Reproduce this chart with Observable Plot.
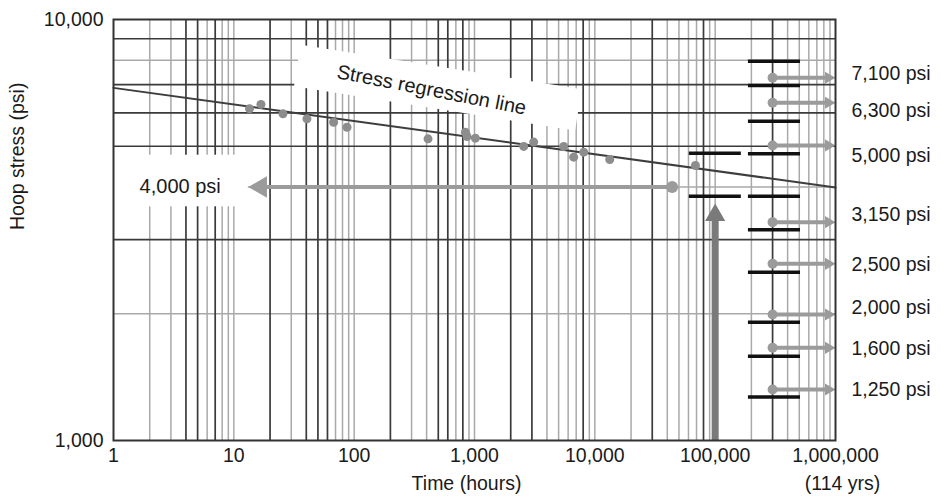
<!DOCTYPE html>
<html>
<head>
<meta charset="utf-8">
<script src="https://cdn.jsdelivr.net/npm/d3@7"></script>
<script src="https://cdn.jsdelivr.net/npm/@observablehq/plot@0.6"></script>
<style>
  html, body { margin: 0; padding: 0; background: #ffffff; }
  svg { display: block; }
</style>
</head>
<body>
<div id="chart"></div>
<script>
// ---- axis ticks ----
const xTicks = [1, 10, 100, 1000, 10000, 100000, 1000000];
const yTicks = [1000, 10000];

// ---- log graph-paper grid (dark and light lines) ----
const gridXDark = [4, 5, 7, 20, 40, 50, 60, 200, 500, 600, 800, 2000, 3000, 8000, 30000, 80000, 300000];
const gridXLight = [2, 3, 6, 8, 9, 10, 30, 70, 80, 90, 100, 300, 400, 700, 900, 1000,
  4000, 5000, 6000, 7000, 9000, 10000, 20000, 40000, 50000, 60000, 70000, 90000, 100000,
  200000, 400000, 500000, 600000, 700000, 800000, 900000];
const gridYDark = [9000, 7000, 6000, 5000, 3000];
const gridYLight = [8000, 4000, 2000];

// ---- test data points (hours, psi) ----
const testHours  = [13.5, 16.8, 25.6, 40.5, 67.5, 87.2, 411, 839, 867, 1017, 2564, 3104, 5511, 6670, 8084, 13300, 68560];
const testStress = [6136, 6284, 5970, 5808, 5702, 5548, 5206, 5400, 5274, 5225, 4995, 5114, 4995, 4710, 4840, 4650, 4499];

// ---- regression line ----
const regressionHours  = [1, 1000000];
const regressionStress = [6880, 3990];
const regressionLabel = "Stress regression line";
const regressionLabelHours = 440;
const regressionLabelStress = 6800;
const labelBoxHours  = [33.7, 7300];
const labelBoxStress = [7774, 6100];

// ---- 4,000 psi call-out ----
const hdbLabel = "4,000 psi";
const hdbStress = 4000;
const hdbPointHours = 43900;
const hdbArrowTipHours = 13.2;
const hdbLabelHours = 3.58;
const hdbBoxHours = [1, 13.2];
const hdbBoxStress = [3590, 4760];

// ---- 100,000 hour arrow ----
const designHours = 100000;
const designArrowStress = [1000, 3461];
const designArrowTipStress = 3655;

// ---- pressure ratings on the right ----
const ratingLabels = ["7,100 psi", "6,300 psi", "5,000 psi", "3,150 psi", "2,500 psi", "2,000 psi", "1,600 psi", "1,250 psi"];
const ratingArrowStress = [7270, 6342, 5022, 3301, 2628, 1992, 1660, 1322];
const ratingLabelStress = [7437, 6078, 4753, 3441, 2618, 2070, 1654, 1322];
const ratingStartHours = 300000;
const ratingShaftEndHours = 875000;
const ratingTipHours = 1000000;

// ---- black bars ----
const barStress = [7960, 6970, 5733, 4797, 3805, 3166, 2511, 1910, 1585, 1268];
const barHours = [189000, 512000];
const bar100kStress = [4812, 3805];
const bar100kHours = [61000, 165000];

// ---- labels ----
const xLabel = "Time (hours)";
const xLabelExtra = "(114 yrs)";
const yLabel = "Hoop stress (psi)";

const points = testHours.map((h, i) => ({h, s: testStress[i]}));
const regression = regressionHours.map((h, i) => ({h, s: regressionStress[i]}));
const labelBox = labelBoxHours.map((h, i) => ({h, s: labelBoxStress[i]}));
const ratings = ratingLabels.map((label, i) => ({label, a: ratingArrowStress[i], l: ratingLabelStress[i]}));

const fmt = d3.format(",");
const FONT = "'Liberation Sans', Arial, Helvetica, sans-serif";
const darkGrid = "#3a3a3a";
const lightGrid = "#a9a9a9";
const arrowGray = "#9b9b9b";
const ink = "#1a1a1a";

const chart = Plot.plot({
  width: 942,
  height: 500,
  marginLeft: 113,
  marginRight: 107,
  marginTop: 19,
  marginBottom: 60,
  style: {fontFamily: FONT, fontSize: "19.5px", color: ink, background: "#ffffff"},
  x: {type: "log", domain: [1, 1000000], ticks: xTicks, tickFormat: fmt, tickSize: 0, tickPadding: 8, label: null},
  y: {type: "log", domain: [1000, 10000], ticks: yTicks, tickFormat: fmt, tickSize: 0, tickPadding: 10, label: null},
  marks: [
    Plot.ruleX(gridXLight, {stroke: lightGrid, strokeWidth: 1.5}),
    Plot.ruleY(gridYLight, {stroke: lightGrid, strokeWidth: 1.5}),
    Plot.ruleX(gridXDark, {stroke: darkGrid, strokeWidth: 1.7}),
    Plot.ruleY(gridYDark, {stroke: darkGrid, strokeWidth: 1.7}),
    // white label backgrounds
    Plot.line(labelBox, {x: "h", y: "s", stroke: "#ffffff", strokeWidth: 42, strokeLinecap: "butt"}),
    Plot.rect([hdbLabel], {x1: hdbBoxHours[0], x2: hdbBoxHours[1], y1: hdbBoxStress[0], y2: hdbBoxStress[1], fill: "#ffffff"}),
    // regression line
    Plot.line(regression, {x: "h", y: "s", stroke: "#3d3d3d", strokeWidth: 2}),
    // data points
    Plot.dot(points, {x: "h", y: "s", r: 4.5, fill: "#8d8d8d"}),
    // black bars
    Plot.ruleY(barStress, {y: d => d, x1: barHours[0], x2: barHours[1], stroke: "#111111", strokeWidth: 3.5}),
    Plot.ruleY(bar100kStress, {y: d => d, x1: bar100kHours[0], x2: bar100kHours[1], stroke: "#111111", strokeWidth: 3.5}),
    // 4,000 psi arrow
    Plot.ruleY([hdbStress], {y: d => d, x1: hdbPointHours, x2: hdbArrowTipHours * 1.25, stroke: arrowGray, strokeWidth: 4}),
    Plot.dot([hdbStress], {x: hdbArrowTipHours, y: d => d, symbol: "triangle", r: 8, rotate: -90, dx: 12.4, fill: arrowGray}),
    Plot.dot([hdbStress], {x: hdbPointHours, y: d => d, r: 6, fill: arrowGray}),
    Plot.text([hdbLabel], {x: hdbLabelHours, y: hdbStress, text: d => d, fontSize: 20, fill: ink}),
    // 100,000 hour arrow
    Plot.ruleX([designHours], {x: d => d, y1: designArrowStress[0], y2: designArrowStress[1], stroke: "#7a7a7a", strokeWidth: 7}),
    Plot.dot([designHours], {x: d => d, y: designArrowTipStress, symbol: "triangle", r: 7.5, dy: 11.7, fill: "#7a7a7a"}),
    // rating arrows
    Plot.ruleY(ratings, {y: "a", x1: ratingStartHours, x2: ratingShaftEndHours, stroke: arrowGray, strokeWidth: 4}),
    Plot.dot(ratings, {x: ratingStartHours, y: "a", r: 5, fill: arrowGray}),
    Plot.dot(ratings, {x: ratingTipHours, y: "a", symbol: "triangle", r: 4.5, rotate: 90, dx: -7, fill: arrowGray}),
    Plot.text(ratings, {x: ratingTipHours, y: "l", text: "label", dx: 16, textAnchor: "start", fontSize: 19.5, fill: ink}),
    // regression label
    Plot.text([regressionLabel], {x: regressionLabelHours, y: regressionLabelStress, text: d => d, rotate: 11, fontSize: 20, fill: ink}),
    Plot.frame({stroke: "#333333", strokeWidth: 2}),
    // axis titles
    Plot.text([xLabel], {frameAnchor: "bottom", text: d => d, dx: -8, dy: 49, fontSize: 19.5, fill: ink}),
    Plot.text([xLabelExtra], {frameAnchor: "bottom-right", text: d => d, textAnchor: "middle", dx: 7, dy: 49, fontSize: 19.5, fill: ink}),
    Plot.text([yLabel], {frameAnchor: "left", text: d => d, dx: -96, rotate: -90, fontSize: 19.5, fill: ink})
  ]
});
document.getElementById("chart").appendChild(chart);
</script>
</body>
</html>
